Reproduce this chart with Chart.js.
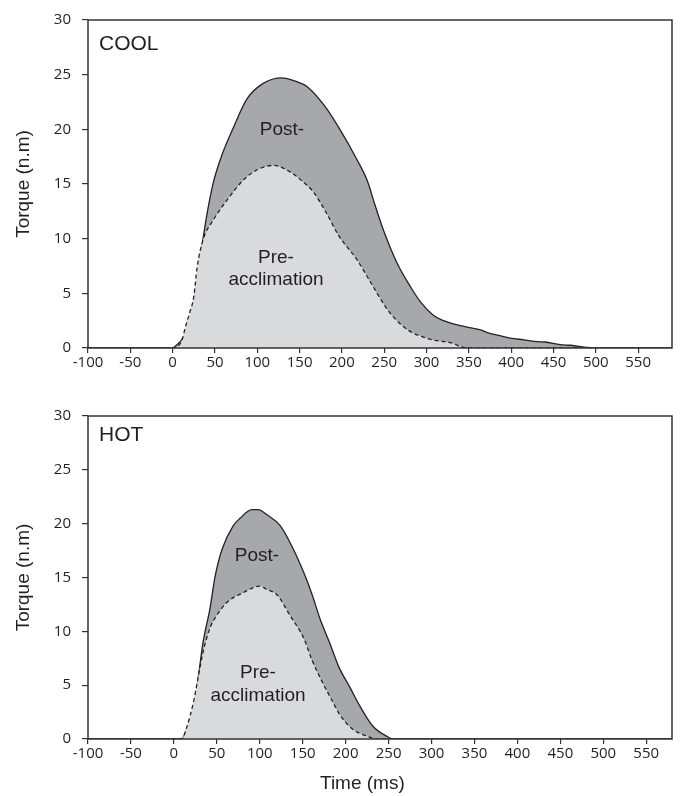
<!DOCTYPE html>
<html>
<head>
<meta charset="utf-8">
<script src="https://cdn.jsdelivr.net/npm/chart.js@4"></script>
<style>
  html, body { margin: 0; padding: 0; background: #fff; }
  .panel { position: relative; width: 680px; }
</style>
</head>
<body>
<div class="panel" style="height:396px"><canvas id="cool"></canvas></div>
<div class="panel" style="height:400px"><canvas id="hot"></canvas></div>
<script>
// COOL - time (ms) and torque (n.m)
const coolPostTime = [-100, 0, 2, 13, 23, 28, 34, 40, 48, 58, 72, 88, 107, 129, 145, 159, 180, 196, 218, 230, 239, 249, 265, 281, 293, 308, 320, 332, 348, 364, 372, 385, 399, 415, 431, 440, 458, 470, 490, 500, 590];
const coolPost     = [0, 0, 0.1, 1.0, 2.9, 5.9, 9.0, 12.0, 15.1, 17.6, 20.2, 22.8, 24.2, 24.7, 24.4, 23.9, 22.1, 20.2, 17.2, 15.3, 13.1, 10.8, 7.8, 5.6, 4.2, 3.0, 2.5, 2.2, 1.9, 1.65, 1.4, 1.15, 0.9, 0.75, 0.58, 0.55, 0.3, 0.25, 0.05, 0, 0];
const coolPreTime  = [-100, 0, 5, 11, 15, 20, 25, 29, 36, 48, 64, 84, 100, 119, 139, 151, 166, 182, 196, 218, 237, 253, 265, 281, 296, 308, 328, 348, 590];
const coolPre      = [0, 0, 0.1, 0.7, 1.9, 3.2, 4.7, 7.4, 9.9, 11.7, 13.5, 15.4, 16.3, 16.7, 16.1, 15.4, 14.3, 12.3, 10.3, 8.05, 5.6, 3.6, 2.5, 1.5, 1.0, 0.73, 0.49, 0, 0];

// HOT
const hotPostTime = [-100, 9, 15, 23, 28, 34, 42, 48, 56, 69, 77, 91, 98, 108, 124, 139, 151, 161, 170, 182, 192, 205, 217, 232, 248, 256, 580];
const hotPost     = [0, 0, 0.9, 2.9, 5.5, 9.0, 12.1, 15.1, 17.6, 19.8, 20.5, 21.3, 21.3, 20.85, 19.8, 17.65, 15.5, 13.4, 11.2, 8.8, 6.7, 4.8, 3.0, 1.16, 0.25, 0, 0];
const hotPreTime  = [-100, 9, 15, 23, 28, 34, 42, 50, 62, 81, 100, 108, 120, 135, 151, 161, 174, 184, 192, 200, 209, 225, 236, 580];
const hotPre      = [0, 0, 1.1, 3.5, 5.6, 8.1, 10.3, 11.5, 12.7, 13.6, 14.2, 13.9, 13.4, 11.5, 9.4, 7.3, 5.1, 3.6, 2.4, 1.55, 0.86, 0.25, 0, 0];

const yTicks = [0, 5, 10, 15, 20, 25, 30];
const xTicks = [-100, -50, 0, 50, 100, 150, 200, 250, 300, 350, 400, 450, 500, 550];

const ink = '#231f20';
const tickFont = { family: "'Open Sans', sans-serif", size: 15 };
const textFont = "'Liberation Sans', Arial, sans-serif";

function pts(xs, ys) {
    return xs.map((x, i) => ({ x: x, y: ys[i] }));
}

// box around the plot area + free text
const framePlugin = {
    id: 'frame',
    afterDatasetsDraw(chart) {
        const a = chart.chartArea;
        const ctx = chart.ctx;
        ctx.save();
        ctx.strokeStyle = '#333';
        ctx.lineWidth = 1.5;
        ctx.strokeRect(a.left, a.top, a.right - a.left, a.bottom - a.top);
        ctx.restore();
    },
    afterDraw(chart, args, opts) {
        const ctx = chart.ctx;
        ctx.save();
        ctx.fillStyle = ink;
        ctx.textBaseline = 'alphabetic';
        for (const n of (opts.notes || [])) {
            ctx.font = n.size + 'px ' + textFont;
            ctx.textAlign = n.align || 'center';
            ctx.fillText(n.text, n.x, n.y);
        }
        ctx.restore();
    }
};

function makeChart(id, preTime, pre, postTime, post, xMax, xAxisH, padTop, notes) {
    return new Chart(document.getElementById(id), {
        type: 'line',
        data: {
            datasets: [{
                label: 'Pre-acclimation',
                data: pts(preTime, pre),
                borderColor: '#222',
                borderWidth: 1.3,
                borderDash: [4, 3],
                backgroundColor: '#d9dadc',
                fill: 'origin',
                pointRadius: 0,
                cubicInterpolationMode: 'monotone'
            }, {
                label: 'Post-acclimation',
                data: pts(postTime, post),
                borderColor: '#222',
                borderWidth: 1.3,
                backgroundColor: '#a7a8ab',
                fill: 'origin',
                pointRadius: 0,
                cubicInterpolationMode: 'monotone'
            }]
        },
        options: {
            responsive: true,
            maintainAspectRatio: false,
            animation: false,
            layout: { padding: { left: 0, right: 8, top: padTop, bottom: 0 } },
            plugins: {
                legend: { display: false },
                tooltip: { enabled: false },
                frame: { notes: notes }
            },
            scales: {
                x: {
                    type: 'linear',
                    min: -100,
                    max: xMax,
                    afterBuildTicks: (s) => { s.ticks = xTicks.map(v => ({ value: v })); },
                    afterFit: (s) => { s.height = xAxisH; },
                    ticks: { color: ink, font: tickFont, padding: 1, maxRotation: 0, autoSkip: false },
                    grid: { drawOnChartArea: false, tickLength: 5, color: '#333', lineWidth: 1.2 },
                    border: { display: false }
                },
                y: {
                    min: 0,
                    max: 30,
                    afterBuildTicks: (s) => { s.ticks = yTicks.map(v => ({ value: v })); },
                    afterFit: (s) => { s.width = 88; },
                    ticks: { color: ink, font: tickFont, padding: 11 },
                    grid: { drawOnChartArea: false, tickLength: 6, color: '#333', lineWidth: 1.2 },
                    border: { display: false },
                    title: {
                        display: true,
                        text: 'Torque (n.m)',
                        color: ink,
                        font: { family: textFont, size: 19 },
                        padding: { top: 12, bottom: 0 }
                    }
                }
            }
        },
        plugins: [framePlugin]
    });
}

makeChart('cool', coolPreTime, coolPre, coolPostTime, coolPost, 590, 48, 20, [
    { text: 'COOL', x: 99, y: 50, size: 21, align: 'left' },
    { text: 'Post-', x: 282, y: 135, size: 19 },
    { text: 'Pre-', x: 276, y: 263, size: 19 },
    { text: 'acclimation', x: 276, y: 285, size: 19 }
]);

makeChart('hot', hotPreTime, hotPre, hotPostTime, hotPost, 580, 57, 15, [
    { text: 'HOT', x: 99, y: 45, size: 21, align: 'left' },
    { text: 'Post-', x: 257, y: 165, size: 19 },
    { text: 'Pre-', x: 258, y: 282, size: 19 },
    { text: 'acclimation', x: 258, y: 305, size: 19 },
    { text: 'Time (ms)', x: 320, y: 393, size: 19, align: 'left' }
]);
</script>
</body>
</html>
